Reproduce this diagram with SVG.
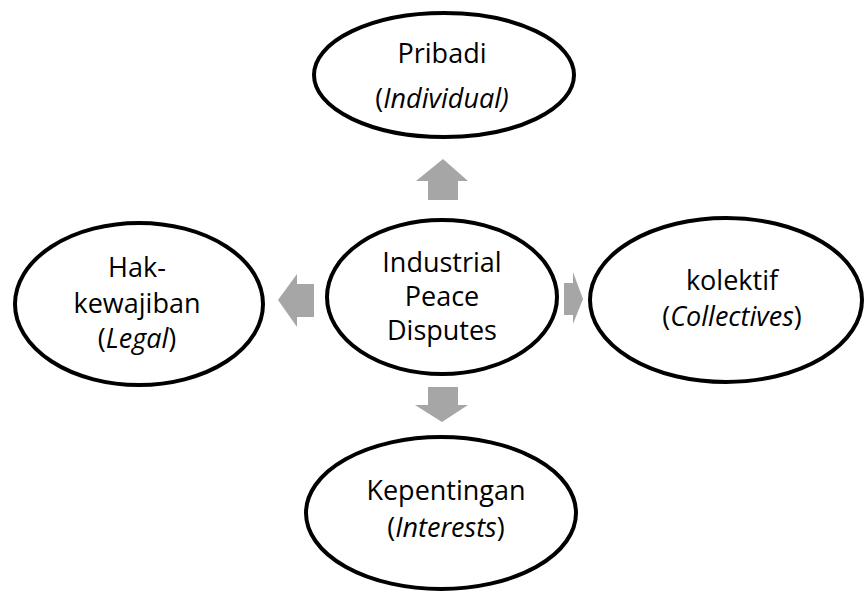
<svg xmlns="http://www.w3.org/2000/svg" width="865" height="594" viewBox="0 0 865 594">
  <style>
    .node ellipse { fill: #ffffff; stroke: #000000; stroke-width: 4; }
    .node text { font-family: "Open Sans", "Noto Sans", sans-serif; font-size: 27px; fill: #000000; text-anchor: middle; }
    .node tspan.it { font-style: italic; }
    #connectors path { fill: #a6a6a6; stroke: none; }
  </style>
  <rect width="865" height="594" fill="#ffffff"/>

  <!-- block arrows pointing out from the centre -->
  <g id="connectors">
    <path d="M428,200 L428,181 L416,181 L443,159 L468,181 L458,181 L458,200 Z"/>
    <path d="M314,284 L297,284 L297,274 L278,300 L297,327 L297,317 L314,317 Z"/>
    <path d="M564,283 L573,283 L573,272 L583,299 L573,324 L573,315 L564,315 Z"/>
    <path d="M428,387 L458,387 L458,405 L468,405 L442,422 L415,405 L428,405 Z"/>
  </g>

  <g id="node-pribadi" class="node">
    <ellipse cx="444" cy="75" rx="130" ry="62"/>
    <text x="442" y="63">Pribadi</text>
    <text x="442" y="108">(<tspan class="it">Individual)</tspan></text>
  </g>

  <g id="node-center" class="node">
    <ellipse cx="442" cy="297" rx="115" ry="77"/>
    <text x="442" y="272">Industrial</text>
    <text x="442" y="306">Peace</text>
    <text x="442" y="340">Disputes</text>
  </g>

  <g id="node-hak" class="node">
    <ellipse cx="139" cy="304" rx="124" ry="81"/>
    <text x="137" y="277">Hak-</text>
    <text x="137" y="313">kewajiban</text>
    <text x="137" y="348">(<tspan class="it">Legal</tspan>)</text>
  </g>

  <g id="node-kolektif" class="node">
    <ellipse cx="726" cy="300" rx="136" ry="82"/>
    <text x="732" y="290">kolektif</text>
    <text x="732" y="326">(<tspan class="it">Collectives</tspan>)</text>
  </g>

  <g id="node-kepentingan" class="node">
    <ellipse cx="441" cy="513" rx="135" ry="76"/>
    <text x="446" y="500">Kepentingan</text>
    <text x="446" y="537">(<tspan class="it">Interests</tspan>)</text>
  </g>
</svg>
